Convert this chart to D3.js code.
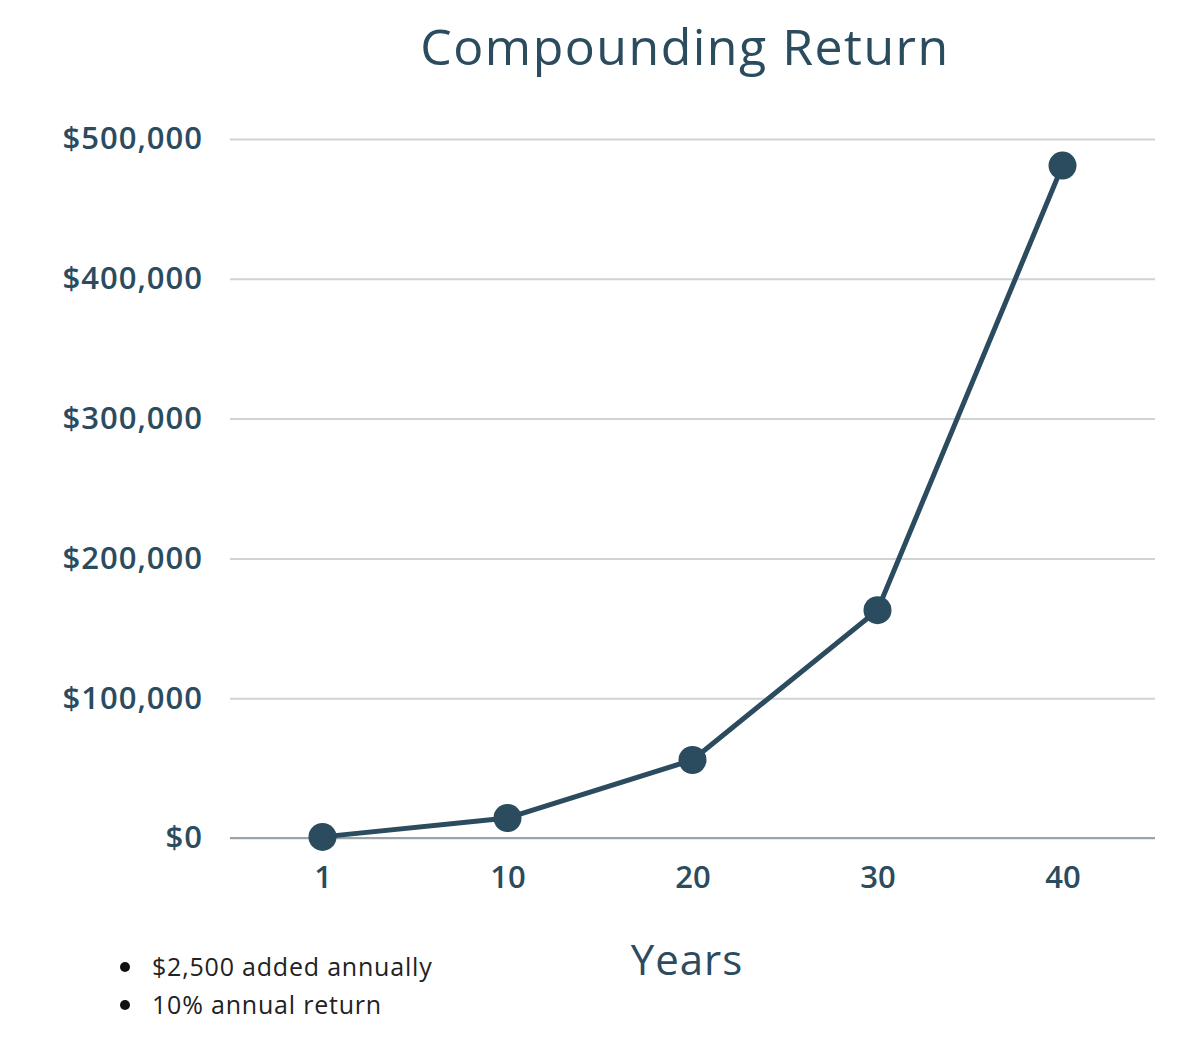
<!DOCTYPE html>
<html><head><meta charset="utf-8">
<script src="https://cdn.jsdelivr.net/npm/d3@7"></script>
<style>body{margin:0;background:#fff}</style></head>
<body><svg id="c" width="1200" height="1052"></svg>
<script>
const years = ["1","10","20","30","40"];
const values = [800, 14300, 55800, 163000, 481000];
const yTicks = [0,100000,200000,300000,400000,500000];
const notes = ["$2,500 added annually","10% annual return"];
const col = "#2b4b5f", font = "'Open Sans', sans-serif";
const svg = d3.select("#c");
const x = d3.scalePoint().domain(years).range([230,1155]).padding(0.5);
const y = d3.scaleLinear().domain([0,500000]).range([838,139]);
svg.append("text").attr("x",685).attr("y",65).attr("text-anchor","middle")
  .attr("font-family",font).attr("font-size",50).attr("letter-spacing",1.5).attr("fill",col).text("Compounding Return");
const ya = svg.append("g").attr("transform","translate(230,0)")
  .call(d3.axisLeft(y).tickValues(yTicks).tickSize(-925).tickFormat(d=>"$"+d3.format(",")(d)));
ya.select(".domain").remove();
ya.selectAll(".tick line").attr("stroke","#cfd3d6").attr("stroke-width",2);
ya.selectAll(".tick text").attr("x",-27).attr("font-family",font).attr("font-size",31).attr("letter-spacing",1)
  .attr("fill",col).attr("font-weight",600);
const xa = svg.append("g").attr("transform","translate(0,838)")
  .call(d3.axisBottom(x).tickSize(0).tickPadding(28));
xa.select(".domain").attr("stroke","#9aa3a9").attr("stroke-width",2).attr("d","M230,0H1155");
xa.selectAll(".tick text").attr("font-family",font).attr("font-size",31).attr("fill",col).attr("font-weight",600);
svg.append("path").datum(values.map((v,i)=>[years[i],v]))
  .attr("fill","none").attr("stroke",col).attr("stroke-width",5)
  .attr("d",d3.line().x(d=>x(d[0])).y(d=>y(d[1])));
svg.selectAll("circle.p").data(values).join("circle")
  .attr("cx",(d,i)=>x(years[i])).attr("cy",d=>y(d)).attr("r",14).attr("fill",col);
svg.append("text").attr("x",687).attr("y",975).attr("text-anchor","middle")
  .attr("font-family",font).attr("font-size",42).attr("letter-spacing",1).attr("fill",col).text("Years");
notes.forEach((t,i)=>{
  svg.append("circle").attr("cx",125).attr("cy",967+i*38).attr("r",5).attr("fill","#111");
  svg.append("text").attr("x",152).attr("y",976+i*38).attr("font-family",font)
    .attr("font-size",25).attr("letter-spacing",0.8).attr("fill","#222").text(t);
});
</script></body></html>
